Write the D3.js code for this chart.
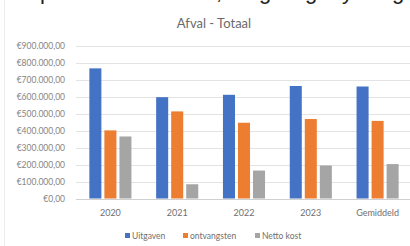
<!DOCTYPE html>
<html>
<head>
<meta charset="utf-8">
<script src="https://cdn.jsdelivr.net/npm/d3@7"></script>
<style>
  body { margin: 0; background: #fff; }
  svg { display: block; font-family: Lato, "Noto Sans", sans-serif; }
</style>
</head>
<body>
<div id="chart"></div>
<script>
const categories = ["2020", "2021", "2022", "2023", "Gemiddeld"];
const seriesNames = ["Uitgaven", "ontvangsten", "Netto kost"];
const uitgaven = [768000, 598000, 612000, 664000, 661000];
const ontvangsten = [402000, 514000, 447000, 469000, 458000];
const nettoKost = [366000, 84000, 165000, 195000, 203000];
const yTicks = [0, 100000, 200000, 300000, 400000, 500000, 600000, 700000, 800000, 900000];
const colors = ["#4472c4", "#ed7d31", "#a5a5a5"];

// leftover descenders of the document line above the chart
const topGlyphs = [
  { ch: "p", x: 40 }, { ch: ",", x: 216 }, { ch: "g", x: 259 },
  { ch: "g", x: 305 }, { ch: "y", x: 342 }, { ch: "g", x: 392 }
];

const width = 410, height = 246;
const margin = { top: 46, right: 0, bottom: 47, left: 77 };

const svg = d3.select("#chart").append("svg")
  .attr("width", width).attr("height", height);

svg.append("line")
  .attr("x1", 4.5).attr("x2", 4.5).attr("y1", 0).attr("y2", height)
  .attr("stroke", "#ececec");

svg.selectAll(".top-glyph")
  .data(topGlyphs)
  .join("text")
  .attr("class", "top-glyph")
  .attr("x", d => d.x)
  .attr("y", -1)
  .attr("fill", "#222")
  .style("font-family", "'Liberation Sans', sans-serif")
  .style("font-size", "22px")
  .text(d => d.ch);

const locale = d3.formatLocale({
  decimal: ",", thousands: ".", grouping: [3], currency: ["€", ""]
});
const fmt = locale.format("$,.2f");

const y = d3.scaleLinear()
  .domain([0, 900000])
  .range([height - margin.bottom - 0.5, margin.top]);

const x = d3.scaleBand()
  .domain(categories)
  .range([margin.left, width + 1])
  .paddingInner(0.37)
  .paddingOuter(0.185);

const xInner = d3.scaleBand()
  .domain(seriesNames)
  .range([0, x.bandwidth()])
  .paddingInner(0.2);

// gridlines
svg.append("g")
  .selectAll("line")
  .data(yTicks)
  .join("line")
  .attr("x1", 76).attr("x2", width)
  .attr("y1", d => Math.round(y(d)) + 0.5)
  .attr("y2", d => Math.round(y(d)) + 0.5)
  .attr("stroke", d => d === 0 ? "#d0d0d0" : "#e3e3e3");

// y labels
const yAxis = d3.axisLeft(y).tickValues(yTicks).tickFormat(fmt).tickSize(0).tickPadding(0);
const yG = svg.append("g")
  .attr("transform", "translate(65,0)")
  .call(yAxis);
yG.select(".domain").remove();
yG.selectAll("text")
  .attr("fill", "#858585")
  .style("font-size", "8.5px")
  .style("font-family", "Lato, sans-serif");

// bars
const rows = categories.map((c, i) => ({
  cat: c,
  values: [uitgaven[i], ontvangsten[i], nettoKost[i]]
}));

svg.append("g")
  .selectAll("g")
  .data(rows)
  .join("g")
  .attr("transform", d => `translate(${x(d.cat)},0)`)
  .selectAll("rect")
  .data(d => d.values.map((v, j) => ({ name: seriesNames[j], value: v, j })))
  .join("rect")
  .attr("x", d => xInner(d.name))
  .attr("width", xInner.bandwidth())
  .attr("y", d => y(d.value))
  .attr("height", d => y(0) - y(d.value))
  .attr("fill", d => colors[d.j]);

// x labels
const xAxis = d3.axisBottom(x).tickSize(0).tickPadding(0);
const xG = svg.append("g")
  .attr("transform", "translate(0,210)")
  .call(xAxis);
xG.select(".domain").remove();
xG.selectAll("text")
  .attr("fill", "#6f6f6f")
  .style("font-size", "9px")
  .style("font-family", "Lato, sans-serif");

// title
svg.append("text")
  .attr("x", 214)
  .attr("y", 28)
  .attr("text-anchor", "middle")
  .attr("fill", "#6a6a6a")
  .style("font-size", "13px")
  .text("Afval - Totaal");

// legend
const legendX = [125, 183, 255];
const legend = svg.append("g")
  .selectAll("g")
  .data(seriesNames)
  .join("g")
  .attr("transform", (d, i) => `translate(${legendX[i]},236)`);

legend.append("rect")
  .attr("x", 0).attr("y", -3)
  .attr("width", 5).attr("height", 5)
  .attr("fill", (d, i) => colors[i]);

legend.append("text")
  .attr("x", 7)
  .attr("y", 3)
  .attr("fill", "#6f6f6f")
  .style("font-size", "8.5px")
  .text(d => d);
</script>
</body>
</html>
